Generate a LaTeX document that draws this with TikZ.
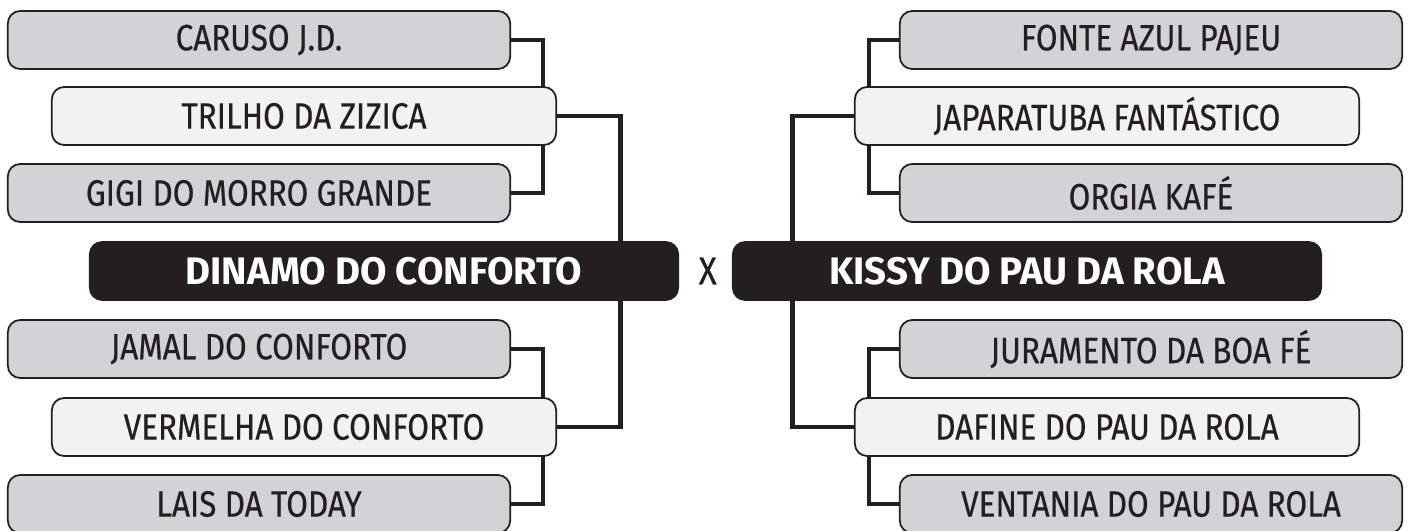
\documentclass[tikz,border=0pt]{standalone}
\usepackage{fontspec}
\setmainfont[FakeStretch=0.86, FakeBold=0.5]{Fira Sans}
\newfontfamily\headfont{Fira Sans}
\usetikzlibrary{positioning, backgrounds}
\definecolor{bgray}{HTML}{D1D3D4}
\definecolor{blight}{HTML}{F1F2F2}
\definecolor{bblack}{HTML}{231F20}

\begin{document}
\begin{tikzpicture}[x=0.01cm, y=-0.01cm,
    b/.style={draw=bblack, line width=0.5pt, rounded corners=3.5pt, minimum width=5.02cm, minimum height=0.58cm, inner sep=0pt, text=bblack, font=\fontsize{10.4}{12}\selectfont},
    g/.style={b, fill=bgray},
    w/.style={b, fill=blight, minimum width=5.04cm},
    h/.style={b, fill=bblack, text=white, minimum width=5.88cm, font=\fontsize{10.9}{12}\headfont\bfseries},
    l/.style={line width=1.4pt, draw=bblack}]
  \useasboundingbox (0,0) rectangle (1412,530);
  % left bracket
  \node[g] (caruso) at (259,40) {CARUSO J.D.};
  \node[w] (trilho) at (304,116) {TRILHO DA ZIZICA};
  \node[g] (gigi) at (259,193) {GIGI DO MORRO GRANDE};
  \node[h] (dinamo) at (384,271) {DINAMO DO CONFORTO};
  \node[g] (jamal) at (259,349) {JAMAL DO CONFORTO};
  \node[w] (vermelha) at (304,427) {VERMELHA DO CONFORTO};
  \node[g] (lais) at (259,504) {LAIS DA TODAY};
  % right bracket
  \node[g] (fonte) at (1151,40) {FONTE AZUL PAJEU};
  \node[w] (japaratuba) at (1107,116) {JAPARATUBA FANTÁSTICO};
  \node[g] (orgia) at (1151,193) {ORGIA KAFÉ};
  \node[h] (kissy) at (1027,271) {KISSY DO PAU DA ROLA};
  \node[g] (juramento) at (1151,349) {JURAMENTO DA BOA FÉ};
  \node[w] (dafine) at (1107,427) {DAFINE DO PAU DA ROLA};
  \node[g] (ventania) at (1151,504) {VENTANIA DO PAU DA ROLA};
  \node[right=0.19cm of dinamo, inner sep=0pt, text=bblack, font=\fontsize{11}{12}\selectfont] (versus) {X};
  \begin{pgfonlayer}{background}
    \draw[l] (caruso.east) -- ++(32,0) |- (gigi.east);
    \draw[l] (jamal.east) -- ++(32,0) |- (lais.east);
    \draw[l] (trilho.east) -| ([xshift=2.36cm]dinamo.north);
    \draw[l] (vermelha.east) -| ([xshift=2.36cm]dinamo.south);
    \draw[l] (fonte.west) -- ++(-30,0) |- (orgia.west);
    \draw[l] (juramento.west) -- ++(-30,0) |- (ventania.west);
    \draw[l] (japaratuba.west) -| ([xshift=-2.34cm]kissy.north);
    \draw[l] (dafine.west) -| ([xshift=-2.34cm]kissy.south);
  \end{pgfonlayer}
\end{tikzpicture}
\end{document}
